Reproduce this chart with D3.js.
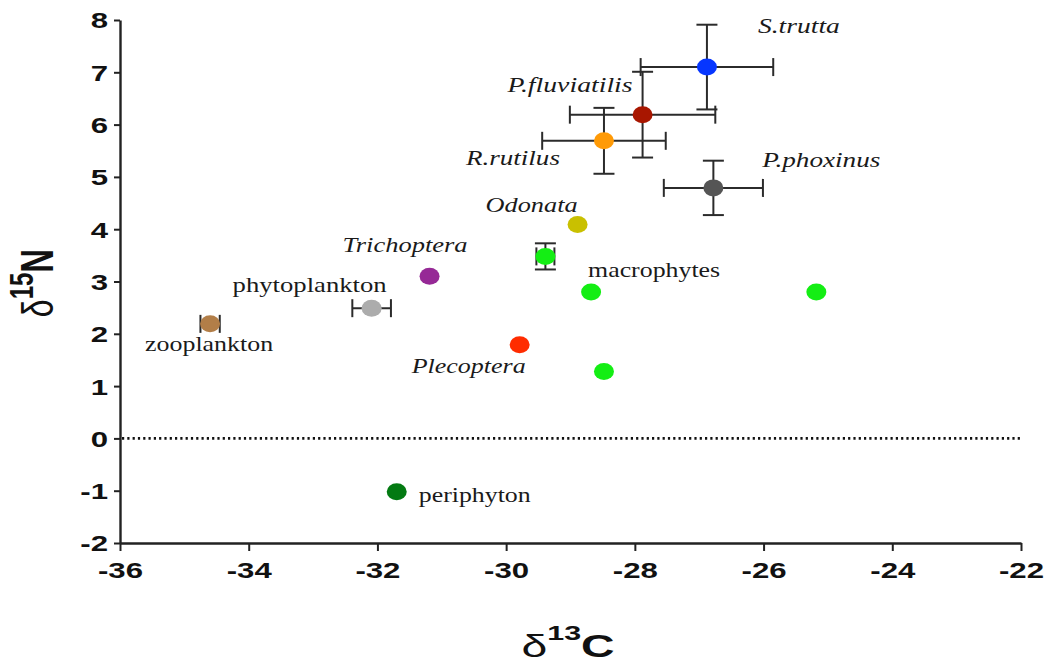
<!DOCTYPE html>
<html>
<head>
<meta charset="utf-8">
<script src="https://cdn.jsdelivr.net/npm/d3@7"></script>
<style>
  html, body { margin: 0; padding: 0; background: #fff; }
  svg { display: block; }
</style>
</head>
<body>
<svg id="chart" width="1047" height="664"></svg>
<script>
// Stable isotope values (mean, with SD where measured)
const taxa   = ["S.trutta", "P.fluviatilis", "R.rutilus", "P.phoxinus", "Odonata",
                "macrophytes", "macrophytes", "macrophytes", "macrophytes",
                "Trichoptera", "Plecoptera", "phytoplankton", "zooplankton", "periphyton"];
const d13C   = [-26.88, -27.88, -28.48, -26.78, -28.89, -29.39, -28.68, -25.18, -28.48, -31.19, -29.79, -32.09, -34.60, -31.70];
const d15N   = [7.10, 6.19, 5.69, 4.79, 4.09, 3.48, 2.80, 2.80, 1.28, 3.10, 1.79, 2.49, 2.19, -1.02];
const sdC    = [1.03, 1.13, 0.96, 0.77, 0, 0.14, 0, 0, 0, 0, 0, 0.30, 0.15, 0];
const sdN    = [0.81, 0.82, 0.63, 0.52, 0, 0.25, 0, 0, 0, 0, 0, 0, 0, 0];

const xTicks = [-36, -34, -32, -30, -28, -26, -24, -22];
const yTicks = [-2, -1, 0, 1, 2, 3, 4, 5, 6, 7, 8];

// Marker colours, one per point
const fills = ["#0636ff", "#a81600", "#ff9a06", "#555555", "#c9c000",
               "#14ee14", "#14ee14", "#14ee14", "#14ee14",
               "#962996", "#ff2c00", "#acacac", "#b27e48", "#037a12"];

// Label text, the point it belongs to, and how it is set
const labelText   = ["S.trutta", "P.fluviatilis", "R.rutilus", "P.phoxinus", "Odonata",
                     "macrophytes", "Trichoptera", "Plecoptera", "phytoplankton", "zooplankton", "periphyton"];
const labelPoint  = [0, 1, 2, 3, 4, 6, 9, 10, 11, 12, 13];
const labelItalic = [true, true, true, true, true, false, true, true, false, false, false];
// pixel offset of the label's left/baseline from its point, and its drawn width
const labelDx     = [51, -135, -138, 49, -92, -3, -87, -108, -139, -65, 22];
const labelDy     = [-34, -23, 24, -21, -12, -15, -24, 28, -16, 27, 10];
const labelW      = [82, 125, 94, 118, 92, 132, 125, 114, 154, 128, 112];

const svg = d3.select("#chart");
const axisColor = "#222";
const sx = 1.45; // horizontal stretch of the axis lettering
const fmt = d => String(d); // plain hyphen-minus, as printed on the axes

const x = d3.scaleLinear().domain([-36, -22]).range([120, 1021]);
const y = d3.scaleLinear().domain([-2, 8]).range([543, 20]);

// dotted reference line at zero
svg.append("line")
  .attr("x1", x(-36) + 2).attr("x2", x(-22))
  .attr("y1", y(0)).attr("y2", y(0))
  .attr("stroke", "#111").attr("stroke-width", 2.6)
  .attr("stroke-dasharray", "2.2,3.1");

// axes
const gx = svg.append("g")
  .attr("transform", `translate(0,${y(-2)})`)
  .call(d3.axisBottom(x).tickValues(xTicks).tickFormat(fmt).tickSize(8).tickSizeOuter(0));
const gy = svg.append("g")
  .attr("transform", `translate(${x(-36)},0)`)
  .call(d3.axisLeft(y).tickValues(yTicks).tickFormat(fmt).tickSize(6).tickSizeOuter(0));

[gx, gy].forEach(g => {
  g.select(".domain").attr("stroke", axisColor).attr("stroke-width", 2.4);
  g.selectAll(".tick line").attr("stroke", axisColor).attr("stroke-width", 2);
  g.selectAll(".tick text")
    .attr("fill", "#111")
    .attr("font-family", "'Liberation Sans', Arial, sans-serif")
    .attr("font-weight", "bold")
    .attr("font-size", 21.5);
});
gx.selectAll(".tick text")
  .attr("y", 35).attr("dy", 0)
  .attr("transform", `scale(${sx},1)`)
  .attr("x", 0);
gy.selectAll(".tick text")
  .attr("x", -12 / sx).attr("dy", "0.37em")
  .attr("transform", `scale(${sx},1)`);

// axis titles
const xt = svg.append("text")
  .attr("text-anchor", "middle")
  .attr("transform", `translate(568,657) scale(${sx},1)`)
  .attr("font-family", "'Liberation Sans', Arial, sans-serif")
  .attr("fill", "#111");
xt.append("tspan").attr("font-size", 32).attr("font-weight", "normal").text("δ");
xt.append("tspan").attr("font-size", 21).attr("font-weight", "bold").attr("dy", -17).text("13");
xt.append("tspan").attr("font-size", 32).attr("font-weight", "bold").attr("dy", 17).text("C");

const yt = svg.append("text")
  .attr("text-anchor", "middle")
  .attr("transform", "translate(53,283) rotate(-90) scale(1,1.4)")
  .attr("font-family", "'Liberation Sans', Arial, sans-serif")
  .attr("fill", "#111");
yt.append("tspan").attr("font-size", 32).attr("font-weight", "normal").text("δ");
yt.append("tspan").attr("font-size", 24).attr("font-weight", "bold").attr("dy", -14).text("15");
yt.append("tspan").attr("font-size", 33).attr("font-weight", "bold").attr("dy", 14).text("N");

// error bars
const idx = d3.range(taxa.length);
const eb = svg.append("g").attr("stroke", "#2b2b2b").attr("stroke-width", 2).attr("fill", "none");
idx.filter(i => sdC[i] > 0).forEach(i => {
  const cy = y(d15N[i]), x0 = x(d13C[i] - sdC[i]), x1 = x(d13C[i] + sdC[i]);
  eb.append("line").attr("x1", x0).attr("x2", x1).attr("y1", cy).attr("y2", cy);
  [x0, x1].forEach(cx => eb.append("line").attr("x1", cx).attr("x2", cx).attr("y1", cy - 9).attr("y2", cy + 9));
});
idx.filter(i => sdN[i] > 0).forEach(i => {
  const cx = x(d13C[i]), y0 = y(d15N[i] + sdN[i]), y1 = y(d15N[i] - sdN[i]);
  eb.append("line").attr("x1", cx).attr("x2", cx).attr("y1", y0).attr("y2", y1);
  [y0, y1].forEach(cy => eb.append("line").attr("x1", cx - 10.5).attr("x2", cx + 10.5).attr("y1", cy).attr("y2", cy));
});

// markers
svg.append("g").selectAll("ellipse")
  .data(idx)
  .join("ellipse")
  .attr("cx", i => x(d13C[i]))
  .attr("cy", i => y(d15N[i]))
  .attr("rx", 10).attr("ry", 8.5)
  .attr("fill", i => fills[i]);

// labels
svg.append("g").selectAll("text")
  .data(d3.range(labelText.length))
  .join("text")
  .attr("x", k => x(d13C[labelPoint[k]]) + labelDx[k])
  .attr("y", k => y(d15N[labelPoint[k]]) + labelDy[k])
  .attr("font-family", "'Liberation Serif', 'Times New Roman', serif")
  .attr("font-style", k => labelItalic[k] ? "italic" : "normal")
  .attr("font-size", 22)
  .attr("fill", "#1a1a1a")
  .attr("textLength", k => labelW[k])
  .attr("lengthAdjust", "spacingAndGlyphs")
  .text(k => labelText[k]);
</script>
</body>
</html>
